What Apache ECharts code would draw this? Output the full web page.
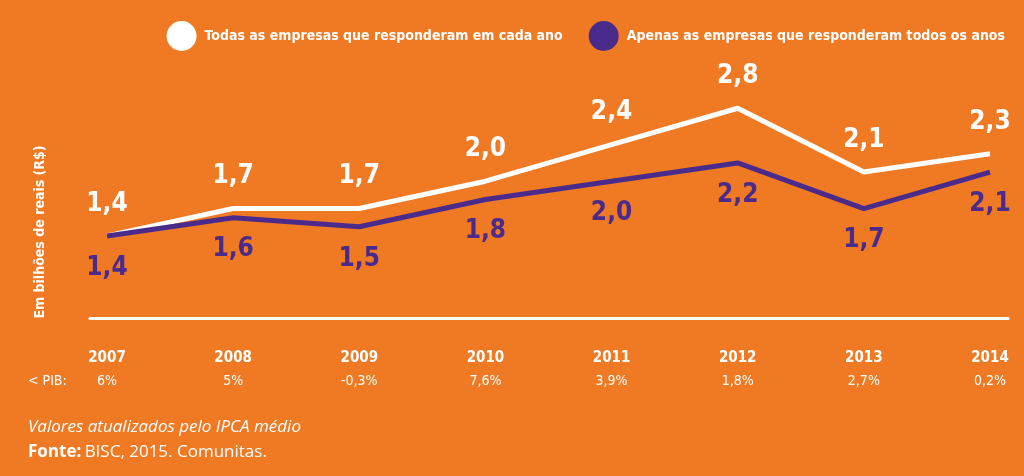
<!DOCTYPE html>
<html><head><meta charset="utf-8">
<script src="https://cdn.jsdelivr.net/npm/echarts@6/dist/echarts.min.js"></script>
<style>html,body{margin:0;padding:0;background:#f07923}#c{width:1024px;height:476px}</style>
</head><body><div id="c"></div>
<script>
const years = ['2007','2008','2009','2010','2011','2012','2013','2014'];
const pib = ['6%','5%','-0,3%','7,6%','3,9%','1,8%','2,7%','0,2%'];
const todas = [1.4, 1.7, 1.7, 2.0, 2.4, 2.8, 2.1, 2.3];
const apenas = [1.4, 1.6, 1.5, 1.8, 2.0, 2.2, 1.7, 2.1];
const nameTodas = 'Todas as empresas que responderam em cada ano';
const nameApenas = 'Apenas as empresas que responderam todos os anos';

const COND = '"Liberation Sans Narrow","DejaVu Sans Condensed",sans-serif';
const WHITE = '#ffffff', PURPLE = '#4a2b8c', BG = '#f07923';
const fmt = p => p.value.toFixed(1).replace('.', ',');

const chart = echarts.init(document.getElementById('c'), null, {renderer:'canvas'});
chart.setOption({
  backgroundColor: BG,
  animation: false,
  legend: {
    right: 14, top: 16, itemWidth: 30, itemHeight: 30, itemGap: 26,
    icon: 'circle',
    textStyle: {color: WHITE, fontFamily: COND, fontWeight: 'bold', fontSize: 14, padding:[0,0,0,3]},
    data: [{name: nameTodas, itemStyle:{color:WHITE}}, {name: nameApenas, itemStyle:{color:PURPLE}}]
  },
  grid: [
    {left: 107, right: 34, top: 90, bottom: 158},
    {left: 90, right: 16, top: 90, bottom: 158}
  ],
  xAxis: [
    {type:'category', gridIndex:0, data: years, boundaryGap:false,
     axisLine:{show:false}, axisTick:{show:false},
     axisLabel:{
       margin: 28, interval: 0,
       formatter: (v, i) => '{y|' + v + '}\n{p|' + pib[i] + '}',
       rich: {
         y: {color:WHITE, fontFamily:COND, fontWeight:'bold', fontSize:15, lineHeight:24},
         p: {color:WHITE, fontFamily:COND, fontSize:14, lineHeight:22}
       }
     }},
    {type:'category', gridIndex:1, data:[''], axisLine:{show:true, lineStyle:{color:WHITE, width:3}},
     axisTick:{show:false}, axisLabel:{show:false}}
  ],
  yAxis: [
    {type:'value', gridIndex:0, min:0.5, max:3.0, show:false},
    {type:'value', gridIndex:1, show:false}
  ],
  series: [
    {name: nameTodas, type:'line', data: todas, xAxisIndex:0, yAxisIndex:0,
     symbol:'circle', symbolSize:0.1, showSymbol:true, z:3,
     lineStyle:{color:WHITE, width:5}, itemStyle:{color:WHITE},
     label:{show:true, position:'top', distance:19, formatter: fmt,
       color:WHITE, fontFamily:COND, fontWeight:'bold', fontSize:26}},
    {name: nameApenas, type:'line', data: apenas, xAxisIndex:0, yAxisIndex:0,
     symbol:'circle', symbolSize:0.1, showSymbol:true, z:4,
     lineStyle:{color:PURPLE, width:5}, itemStyle:{color:PURPLE},
     label:{show:true, position:'bottom', distance:19, formatter: fmt,
       color:PURPLE, fontFamily:COND, fontWeight:'bold', fontSize:26}}
  ],
  graphic: [
    {type:'text', x:40, y:232, rotation: Math.PI/2,
     style:{text:'Em bilhões de reais (R$)', fill:WHITE, font:'bold 14px ' + COND,
       textAlign:'center', textVerticalAlign:'middle'}},
    {type:'text', x:28, y:381,
     style:{text:'< PIB:', fill:WHITE, font:'14px ' + COND, textVerticalAlign:'middle'}},
    {type:'text', x:28, y:427,
     style:{text:'Valores atualizados pelo IPCA médio', fill:WHITE,
       font:'italic 17px "Open Sans","DejaVu Sans",sans-serif', textVerticalAlign:'middle'}},
    {type:'text', x:28, y:452,
     style:{text:'{b|Fonte:} {r|BISC, 2015. Comunitas.}', textVerticalAlign:'middle',
       rich:{
         b:{fill:WHITE, fontWeight:'bold', fontSize:17, fontFamily:'"Open Sans","DejaVu Sans",sans-serif'},
         r:{fill:WHITE, fontSize:17, fontFamily:'"Open Sans","DejaVu Sans",sans-serif'}
       }}}
  ]
});
</script></body></html>
